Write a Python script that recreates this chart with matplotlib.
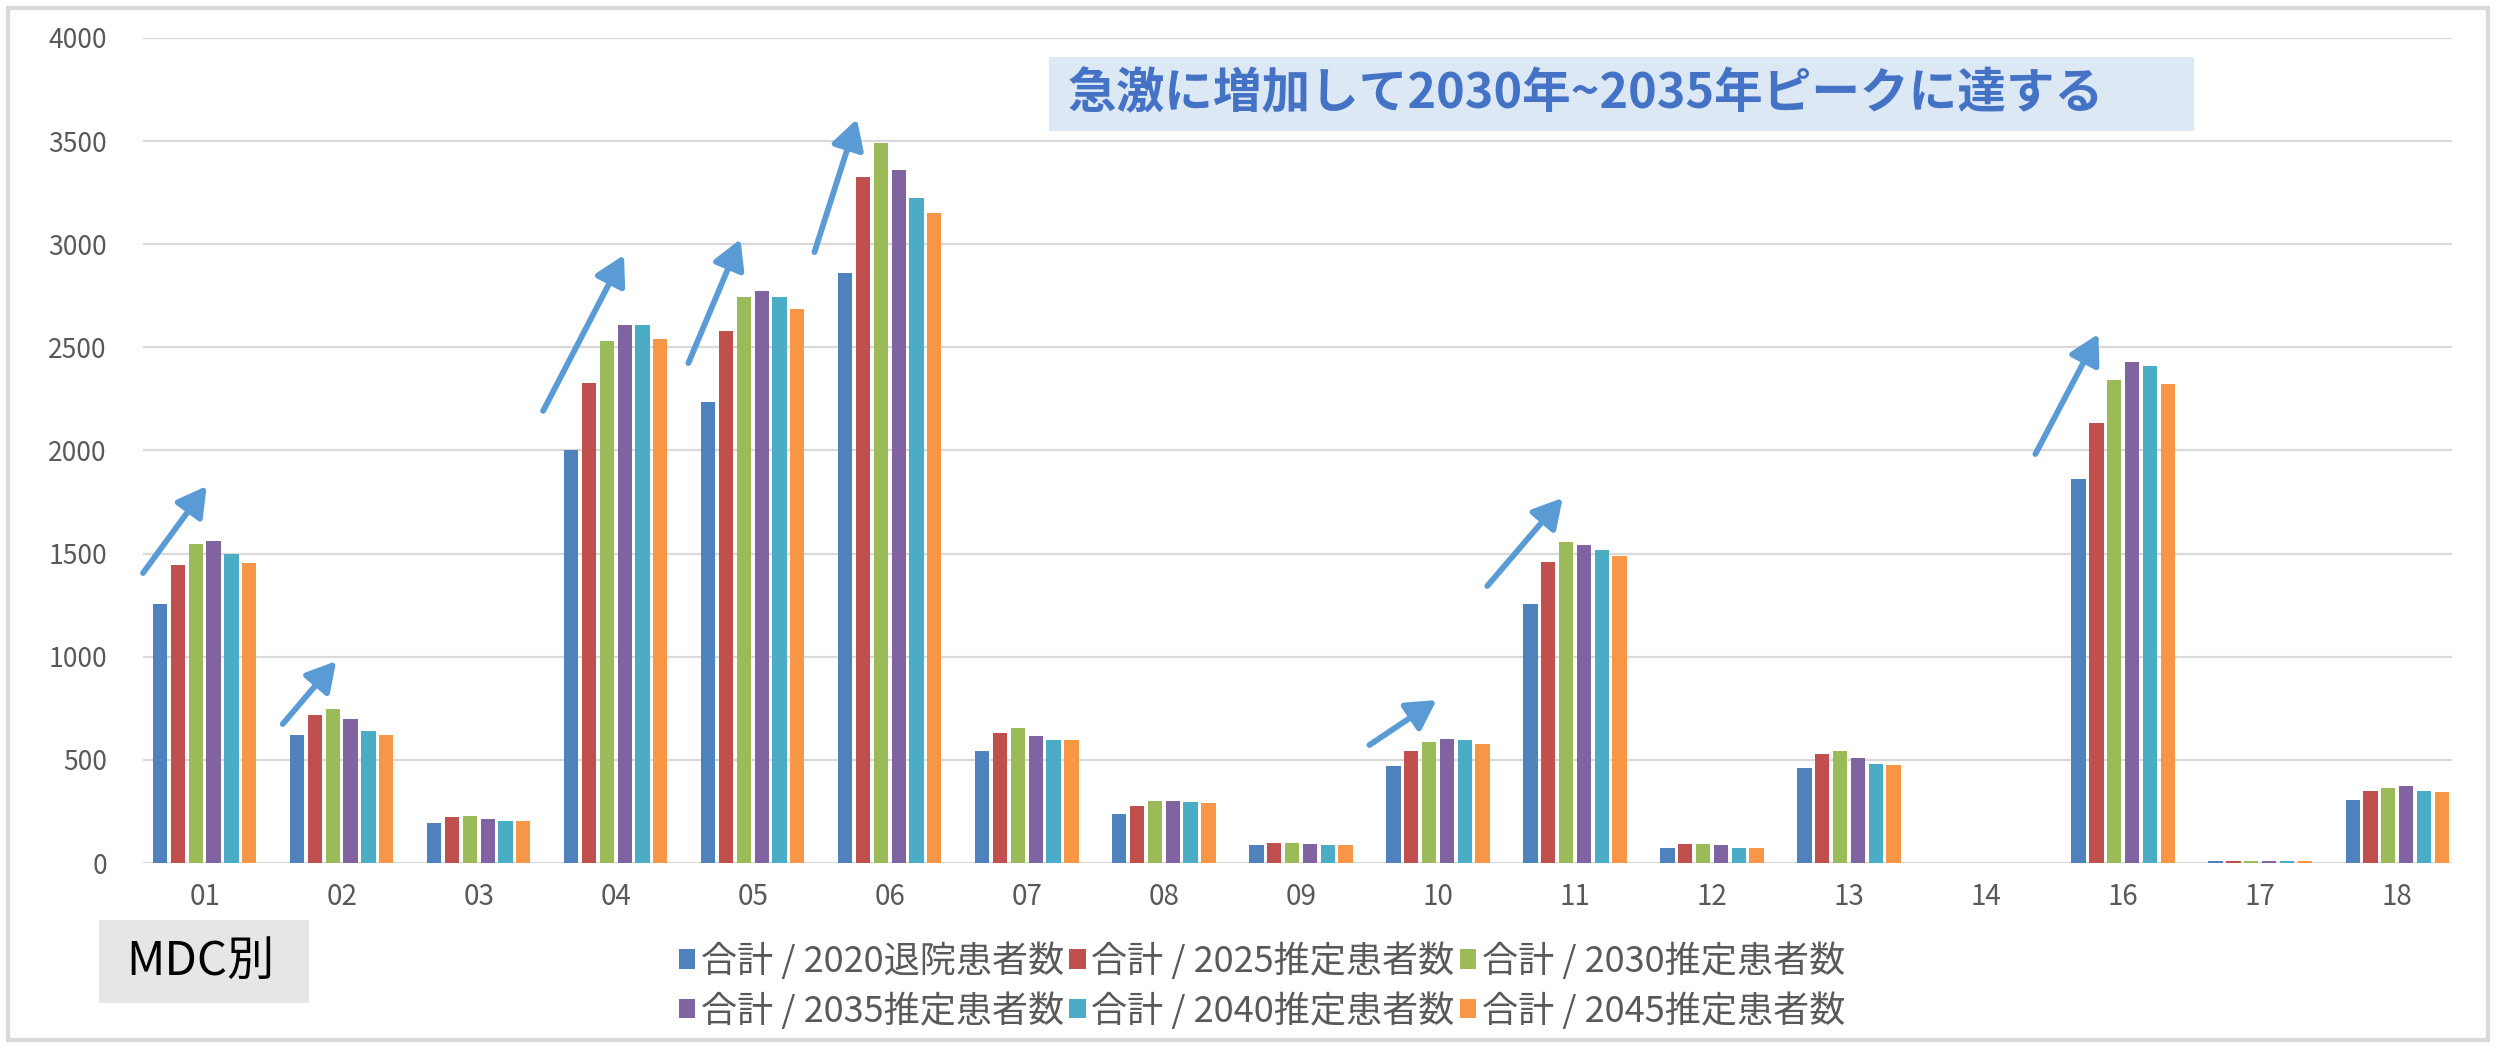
import matplotlib
matplotlib.use("Agg")
import matplotlib.pyplot as plt
from matplotlib.patches import Rectangle, Patch
import numpy as np

plt.rcParams['font.family'] = ['Noto Sans CJK JP', 'DejaVu Sans']

categories = ["01", "02", "03", "04", "05", "06", "07", "08", "09", "10",
              "11", "12", "13", "14", "16", "17", "18"]

series_names = ["合計 / 2020退院患者数", "合計 / 2025推定患者数", "合計 / 2030推定患者数",
                "合計 / 2035推定患者数", "合計 / 2040推定患者数", "合計 / 2045推定患者数"]

v2020 = [1255, 620, 195, 2000, 2235, 2860, 545, 240, 85, 470, 1255, 75, 460, 0, 1860, 10, 305]
v2025 = [1445, 720, 225, 2325, 2580, 3325, 630, 275, 95, 545, 1460, 90, 530, 0, 2135, 10, 350]
v2030 = [1545, 745, 230, 2530, 2745, 3490, 655, 300, 95, 585, 1555, 90, 545, 0, 2340, 10, 365]
v2035 = [1560, 700, 215, 2610, 2775, 3360, 615, 300, 90, 600, 1540, 85, 510, 0, 2430, 10, 375]
v2040 = [1500, 640, 205, 2610, 2745, 3225, 595, 295, 85, 595, 1520, 75, 480, 0, 2410, 10, 350]
v2045 = [1455, 620, 205, 2540, 2685, 3150, 595, 290, 85, 575, 1490, 75, 475, 0, 2320, 10, 345]
series = [v2020, v2025, v2030, v2035, v2040, v2045]

colors = ["#4f81bd", "#c0504d", "#9bbb59", "#8064a2", "#4bacc6", "#f79646"]

yticks = [0, 500, 1000, 1500, 2000, 2500, 3000, 3500, 4000]

title_text = "急激に増加して2030年~2035年ピークに達する"
box_label = "MDC別"

# annotation arrows (tail -> head) in data coordinates
arrows = [((-0.45, 1406), (0.015, 1828)),
          ((0.57, 674), (0.96, 979)),
          ((2.47, 2192), (3.06, 2948)),
          ((3.53, 2424), (3.91, 3025)),
          ((4.45, 2962), (4.76, 3607)),
          ((8.50, 572), (8.99, 790)),
          ((9.36, 1343), (9.91, 1770)),
          ((13.36, 1983), (13.82, 2565))]

W, H = 2496, 1048
fig = plt.figure(figsize=(W / 100, H / 100), dpi=100)
fig.patch.set_facecolor("white")

left, right = 143 / W, 2452 / W
bottom, top = 1 - 863 / H, 1 - 38 / H
ax = fig.add_axes([left, bottom, right - left, top - bottom])

x = np.arange(len(categories))
slot = 0.13
bw = 0.104
for j, (vals, c, name) in enumerate(zip(series, colors, series_names)):
    ax.bar(x + (j - 2.5) * slot, vals, width=bw, color=c, label=name, zorder=3)

ax.set_xlim(-0.45, 16.40)
ax.set_ylim(0, 4000)
ax.set_yticks(yticks)
ax.set_yticklabels([str(t) for t in yticks])
ax.set_xticks(x)
ax.set_xticklabels(categories)
ax.grid(axis='y', color="#d9d9d9", linewidth=1.6, zorder=0)
ax.set_axisbelow(True)
for s in ax.spines.values():
    s.set_visible(False)
ax.tick_params(axis='both', length=0, colors="#595959")
ax.tick_params(axis='y', labelsize=19, pad=26)
ax.tick_params(axis='x', labelsize=20, pad=14)
for lbl in ax.get_yticklabels() + ax.get_xticklabels():
    lbl.set_color("#595959")

for tail, head in arrows:
    ax.annotate("", xy=head, xytext=tail,
                arrowprops=dict(arrowstyle="-|>,head_length=0.8,head_width=0.45",
                                mutation_scale=22, lw=4.2, color="#5b9bd5",
                                shrinkA=0, shrinkB=0), zorder=5)

# title box
tb_x0, tb_x1, tb_y0, tb_y1 = 1049, 2194, 57, 131
fig.patches.append(Rectangle((tb_x0 / W, 1 - tb_y1 / H), (tb_x1 - tb_x0) / W, (tb_y1 - tb_y0) / H,
                             transform=fig.transFigure, facecolor="#dde8f5", edgecolor="none", zorder=6))
fig.text(1068 / W, 1 - 94 / H, title_text, fontsize=35, fontweight='bold', color="#4472c4",
         ha='left', va='center', zorder=7)

# MDC box
mb_x0, mb_x1, mb_y0, mb_y1 = 99, 309, 920, 1003
fig.patches.append(Rectangle((mb_x0 / W, 1 - mb_y1 / H), (mb_x1 - mb_x0) / W, (mb_y1 - mb_y0) / H,
                             transform=fig.transFigure, facecolor="#e6e6e6", edgecolor="none", zorder=6))
fig.text(200 / W, 1 - 962 / H, box_label, fontsize=34, color="black",
         ha='center', va='center', zorder=7)

# outer frame
fig.patches.append(Rectangle((8 / W, 8 / H), (W - 16) / W, (H - 16) / H,
                             transform=fig.transFigure, facecolor="none", edgecolor="#d9d9d9",
                             linewidth=3, zorder=1))

handles = [Patch(facecolor=c, edgecolor='none') for c in colors]
order = [0, 3, 1, 4, 2, 5]
leg = fig.legend([handles[i] for i in order], [series_names[i] for i in order],
                 loc='center', bbox_to_anchor=(1262 / W, 1 - 986 / H),
                 ncol=3, frameon=False, fontsize=26, handlelength=0.45, handleheight=0.45,
                 handletextpad=0.15, columnspacing=0.15, labelspacing=0.33, borderpad=0)
for t in leg.get_texts():
    t.set_color("#595959")

fig.savefig("out.png", dpi=100, facecolor="white")
